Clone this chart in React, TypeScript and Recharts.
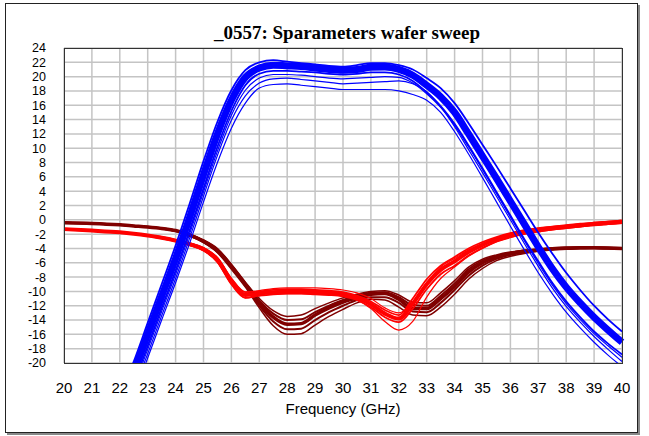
import React from 'react';
import { LineChart, Line, XAxis, YAxis, CartesianGrid } from 'recharts';

const FREQ = [20, 21, 22, 22.5, 23, 23.5, 24, 24.5, 25, 25.5, 26, 26.5, 27, 27.5, 28, 28.5, 29, 29.5, 30, 30.5, 31, 31.5, 32, 32.5, 33, 33.5, 34, 34.5, 35, 35.5, 36, 36.5, 37, 37.5, 38, 38.5, 39, 39.5, 40];

// S21 traces (blue): dense core plus edges and two low outliers
const S21_CORE = [null, null, -26.0, -21.3, -16.0, -10.7, -5.4, 0.3, 6.3, 12.0, 16.7, 19.9, 21.2, 21.6, 21.5, 21.4, 21.2, 21.0, 20.9, 21.0, 21.3, 21.35, 21.0, 20.2, 18.8, 17.2, 15.0, 12.0, 8.9, 5.8, 2.6, -0.6, -3.8, -6.8, -9.4, -11.6, -13.6, -15.4, -17.1];
const S21_HI = [null, null, -24.5, -19.8, -14.4, -9.0, -3.6, 2.2, 8.2, 13.7, 18.1, 20.9, 22.0, 22.3, 22.1, 21.9, 21.7, 21.5, 21.4, 21.6, 21.9, 21.9, 21.6, 21.0, 19.8, 18.4, 16.3, 13.5, 10.5, 7.5, 4.4, 1.3, -1.8, -4.7, -7.4, -9.8, -12.0, -13.9, -15.6];
const S21_LO = [null, null, -27.5, -22.8, -17.6, -12.3, -7.1, -1.5, 4.4, 10.2, 15.2, 18.8, 20.4, 20.8, 20.8, 20.7, 20.6, 20.4, 20.3, 20.4, 20.6, 20.6, 20.3, 19.4, 17.8, 15.9, 13.4, 10.4, 7.2, 3.9, 0.6, -2.7, -5.8, -8.8, -11.4, -13.6, -15.6, -17.3, -18.8];
const S21_MID = [null, null, -28.0, -23.3, -18.1, -12.8, -7.6, -2.0, 3.9, 9.6, 14.6, 18.1, 19.8, 20.3, 20.3, 20.2, 20.0, 19.8, 19.7, 19.8, 19.9, 20.0, 19.9, 19.1, 17.6, 15.7, 13.2, 10.2, 7.0, 3.7, 0.4, -2.9, -6.1, -9.1, -11.7, -13.9, -15.9, -17.6, -19.2];
const S21_OUT1 = [null, null, -28.5, -23.8, -18.7, -13.4, -8.2, -2.6, 3.3, 9.0, 13.9, 17.3, 19.1, 19.7, 19.8, 19.6, 19.4, 19.2, 19.0, 19.1, 19.2, 19.3, 19.4, 19.0, 17.9, 15.8, 13.0, 9.8, 6.6, 3.3, 0.0, -3.3, -6.5, -9.5, -12.1, -14.3, -16.3, -18.1, -19.8];
const S21_OUT2 = [null, null, -29.0, -24.5, -19.3, -14.0, -8.8, -3.3, 2.5, 8.0, 12.8, 16.3, 18.4, 18.9, 19.0, 18.8, 18.6, 18.4, 18.2, 18.2, 18.2, 18.2, 18.0, 17.5, 16.7, 15.0, 12.3, 9.2, 5.9, 2.5, -0.9, -4.2, -7.4, -10.3, -12.9, -15.1, -17.1, -18.9, -20.5];

// S11 traces (red)
const S11_CORE = [-1.3, -1.5, -1.75, -1.95, -2.2, -2.5, -2.9, -3.4, -4.1, -5.6, -8.6, -10.5, -10.3, -10.1, -10.0, -10.0, -10.1, -10.2, -10.4, -10.9, -11.8, -13.1, -13.8, -11.7, -9.0, -7.0, -5.8, -4.5, -3.5, -2.7, -2.1, -1.7, -1.4, -1.15, -0.95, -0.75, -0.55, -0.4, -0.25];
const S11_HI = [-1.25, -1.45, -1.7, -1.9, -2.15, -2.4, -2.8, -3.25, -3.9, -5.3, -8.2, -10.1, -10.0, -9.8, -9.7, -9.7, -9.8, -9.9, -10.1, -10.6, -11.4, -12.6, -13.3, -11.0, -8.3, -6.4, -5.2, -4.0, -3.1, -2.4, -1.85, -1.45, -1.15, -0.95, -0.75, -0.55, -0.4, -0.25, -0.1];
const S11_LO = [-1.35, -1.55, -1.8, -2.0, -2.25, -2.6, -3.0, -3.55, -4.3, -5.9, -9.0, -10.9, -10.6, -10.4, -10.3, -10.3, -10.4, -10.5, -10.7, -11.2, -12.2, -13.6, -14.3, -12.4, -9.7, -7.6, -6.4, -5.0, -3.9, -3.0, -2.4, -1.95, -1.65, -1.35, -1.15, -0.95, -0.75, -0.6, -0.45];
const S11_UP = [-1.25, -1.45, -1.7, -1.9, -2.15, -2.4, -2.8, -3.25, -3.9, -5.3, -8.2, -10.1, -9.9, -9.6, -9.5, -9.5, -9.5, -9.6, -9.8, -10.2, -11.0, -12.3, -13.0, -11.6, -8.8, -6.6, -5.4, -4.2, -3.3, -2.5, -1.9, -1.5, -1.2, -1.0, -0.8, -0.6, -0.45, -0.3, -0.15];
const S11_DN = [-1.35, -1.55, -1.8, -2.0, -2.25, -2.6, -3.0, -3.55, -4.3, -5.9, -9.0, -10.9, -10.6, -10.4, -10.3, -10.3, -10.4, -10.5, -10.6, -11.2, -12.4, -14.2, -15.4, -14.2, -10.8, -8.2, -6.6, -5.1, -4.0, -3.1, -2.5, -2.0, -1.7, -1.4, -1.2, -1.0, -0.8, -0.65, -0.5];

// S22 traces (dark red)
const S22_CORE = [-0.4, -0.5, -0.7, -0.85, -1.0, -1.2, -1.5, -2.1, -3.0, -4.3, -6.5, -9.0, -11.6, -13.6, -14.6, -14.5, -13.3, -12.3, -11.5, -10.9, -10.4, -10.3, -11.1, -12.4, -12.4, -11.0, -9.3, -7.3, -6.0, -5.2, -4.7, -4.4, -4.2, -4.05, -3.95, -3.9, -3.9, -3.95, -4.0];
const S22_HI = [-0.35, -0.45, -0.65, -0.8, -0.95, -1.15, -1.45, -2.0, -2.8, -4.0, -6.2, -8.7, -11.0, -12.7, -13.5, -13.3, -12.4, -11.6, -10.9, -10.4, -10.0, -9.9, -10.5, -11.5, -11.6, -10.2, -8.5, -6.6, -5.5, -4.9, -4.5, -4.25, -4.1, -3.95, -3.85, -3.8, -3.8, -3.85, -3.9];
const S22_LO = [-0.45, -0.55, -0.75, -0.9, -1.05, -1.25, -1.6, -2.3, -3.2, -4.6, -6.9, -9.4, -12.3, -14.8, -16.0, -15.9, -14.7, -13.5, -12.5, -11.6, -11.1, -11.2, -12.2, -13.3, -13.4, -12.2, -10.4, -8.3, -6.8, -5.7, -5.1, -4.7, -4.4, -4.2, -4.1, -4.05, -4.0, -4.05, -4.1];
const S22_M1 = [-0.4, -0.5, -0.7, -0.85, -1.0, -1.2, -1.5, -2.05, -2.9, -4.15, -6.35, -8.85, -11.3, -13.1, -14.0, -13.9, -12.9, -12.0, -11.2, -10.6, -10.2, -10.1, -10.8, -11.9, -12.0, -10.6, -8.9, -6.9, -5.7, -5.05, -4.6, -4.3, -4.15, -4.0, -3.9, -3.85, -3.85, -3.9, -3.95];
const S22_M2 = [-0.4, -0.5, -0.7, -0.85, -1.0, -1.2, -1.55, -2.2, -3.1, -4.45, -6.7, -9.2, -12.0, -14.2, -15.3, -15.2, -14.0, -12.9, -12.0, -11.2, -10.8, -10.8, -11.6, -12.8, -12.9, -11.6, -9.8, -7.8, -6.4, -5.45, -4.9, -4.55, -4.3, -4.1, -4.0, -3.95, -3.95, -4.0, -4.05];

const X_TICKS = [20, 21, 22, 23, 24, 25, 26, 27, 28, 29, 30, 31, 32, 33, 34, 35, 36, 37, 38, 39, 40];
const Y_TICKS = [-20, -18, -16, -14, -12, -10, -8, -6, -4, -2, 0, 2, 4, 6, 8, 10, 12, 14, 16, 18, 20, 22, 24];

const BLUE = '#0000ff';
const RED = '#ff0000';
const DARK_RED = '#800000';

// drawing order: dark red, red, blue
const series = [
  { key: 's22hi', values: S22_HI, color: DARK_RED, width: 1.5 },
  { key: 's22lo', values: S22_LO, color: DARK_RED, width: 1.5 },
  { key: 's22m1', values: S22_M1, color: DARK_RED, width: 2 },
  { key: 's22m2', values: S22_M2, color: DARK_RED, width: 2 },
  { key: 's22core', values: S22_CORE, color: DARK_RED, width: 3.5 },
  { key: 's11up', values: S11_UP, color: RED, width: 1.2 },
  { key: 's11dn', values: S11_DN, color: RED, width: 1.2 },
  { key: 's11hi', values: S11_HI, color: RED, width: 1.8 },
  { key: 's11lo', values: S11_LO, color: RED, width: 1.8 },
  { key: 's11core', values: S11_CORE, color: RED, width: 4 },
  { key: 's21o2', values: S21_OUT2, color: BLUE, width: 1.2 },
  { key: 's21o1', values: S21_OUT1, color: BLUE, width: 1.2 },
  { key: 's21mid', values: S21_MID, color: BLUE, width: 1.2 },
  { key: 's21lo', values: S21_LO, color: BLUE, width: 1.8 },
  { key: 's21hi', values: S21_HI, color: BLUE, width: 1.8 },
  { key: 's21core', values: S21_CORE, color: BLUE, width: 7 },
];

const data = FREQ.map((f, i) => {
  const row: Record<string, number | null> = { f };
  series.forEach(s => {
    row[s.key] = s.values[i];
  });
  return row;
});

const tickStyle = { fontFamily: "'Liberation Sans', Arial, sans-serif", fontSize: 12.5, fill: '#000' };
const xTickStyle = { ...tickStyle, fontSize: 15 };

export default function App() {
  return (
    <div style={{ position: 'absolute', left: 0, top: 0, width: 649, height: 436, background: '#fff' }}>
      <div
        style={{
          position: 'absolute', left: 5, top: 3, width: 631, height: 428,
          border: '1px solid #222', boxShadow: '2px 2px 0 #888',
        }}
      />
      <div
        style={{
          position: 'absolute', left: 0, top: 22, width: 694, textAlign: 'center',
          fontFamily: "'Liberation Serif', 'Times New Roman', serif", fontWeight: 'bold', fontSize: 19, color: '#000',
        }}
      >
        _0557: Sparameters wafer sweep
      </div>
      <div style={{ position: 'absolute', left: 0, top: 0 }}>
        <LineChart width={649} height={436} data={data} margin={{ top: 48, right: 27, left: 0, bottom: 0 }}>
          <CartesianGrid stroke="#c4c4c4" strokeWidth={1.5} />
          <XAxis
            dataKey="f"
            type="number"
            domain={[20, 40]}
            ticks={X_TICKS}
            interval={0}
            height={73}
            tickSize={0}
            tickMargin={19}
            axisLine={false}
            tick={xTickStyle}
            label={{ value: 'Frequency (GHz)', position: 'insideBottom', offset: 22, style: { ...xTickStyle, textAnchor: 'middle' } }}
          />
          <YAxis
            type="number"
            domain={[-20, 24]}
            ticks={Y_TICKS}
            interval={0}
            allowDataOverflow
            width={64}
            tickSize={0}
            tickMargin={18}
            axisLine={false}
            tick={tickStyle}
          />
          {series.map(s => (
            <Line
              key={s.key}
              type="monotone"
              dataKey={s.key}
              stroke={s.color}
              strokeWidth={s.width}
              dot={false}
              activeDot={false}
              isAnimationActive={false}
            />
          ))}
        </LineChart>
      </div>
      <div
        style={{
          position: 'absolute', left: 64, top: 48, width: 557, height: 314,
          border: '1px solid #333', pointerEvents: 'none',
        }}
      />
    </div>
  );
}
